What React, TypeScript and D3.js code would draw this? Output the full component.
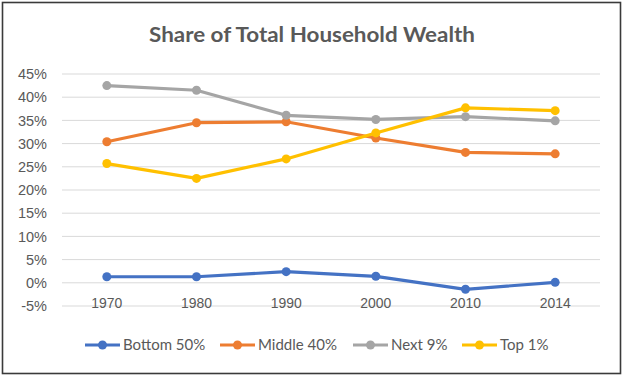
import React from "react";
import * as d3 from "d3";

const years = ["1970", "1980", "1990", "2000", "2010", "2014"];
const bottom50 = [1.3, 1.3, 2.4, 1.4, -1.4, 0.1];
const middle40 = [30.4, 34.5, 34.7, 31.2, 28.1, 27.8];
const next9 = [42.5, 41.5, 36.1, 35.2, 35.8, 34.9];
const top1 = [25.7, 22.5, 26.7, 32.3, 37.7, 37.1];
const yTicks = [-5, 0, 5, 10, 15, 20, 25, 30, 35, 40, 45];
const seriesNames = ["Bottom 50%", "Middle 40%", "Next 9%", "Top 1%"];
const seriesValues = [bottom50, middle40, next9, top1];
const colors = ["#4472C4", "#ED7D31", "#A5A5A5", "#FFC000"];

const W = 623;
const H = 375;

export default function App() {
  const x = d3.scaleBand<string>().domain(years).range([62, 600]).padding(0);
  const y = d3.scaleLinear().domain([-5, 45]).range([306, 74]);
  const cx = (d: string) => (x(d) as number) + x.bandwidth() / 2;
  const line = d3
    .line<number>()
    .x((_, i) => cx(years[i]))
    .y((v) => y(v));

  const legendX = [85, 220, 353, 462];
  const legendY = 345;

  return (
    <svg
      width={W}
      height={H}
      style={{ position: "absolute", left: 0, top: 0, background: "#fff" }}
    >
      <rect x={0} y={0} width={W} height={H} fill="#fff" />
      <rect x={2.5} y={2.5} width={618} height={371} fill="none" stroke="#3a3a3a" strokeWidth={1.6} />
      <text
        x={312}
        y={42}
        textAnchor="middle"
        fontFamily="Lato, 'Open Sans', sans-serif"
        fontWeight={700}
        fontSize={21}
        fill="#595959"
        textLength={326}
        lengthAdjust="spacingAndGlyphs"
      >
        Share of Total Household Wealth
      </text>
      {yTicks.map((t) => (
        <g key={t}>
          <line x1={62} x2={600} y1={y(t)} y2={y(t)} stroke="#d9d9d9" strokeWidth={1} />
          <text
            x={47}
            y={y(t)}
            dy="0.36em"
            textAnchor="end"
            fontFamily="'Liberation Sans', Arial, sans-serif"
            fontSize={14.5}
            fill="#595959"
          >
            {t}%
          </text>
        </g>
      ))}
      {years.map((yr) => (
        <text
          key={yr}
          x={cx(yr)}
          y={308}
          textAnchor="middle"
          fontFamily="'Liberation Sans', Arial, sans-serif"
          fontSize={14.5}
          fill="#595959"
          textLength={31}
          lengthAdjust="spacingAndGlyphs"
        >
          {yr}
        </text>
      ))}
      {seriesValues.map((vals, si) => (
        <g key={si}>
          <path d={line(vals) || ""} fill="none" stroke={colors[si]} strokeWidth={3.2} strokeLinejoin="round" />
          {vals.map((v, i) => (
            <circle key={i} cx={cx(years[i])} cy={y(v)} r={4.5} fill={colors[si]} />
          ))}
        </g>
      ))}
      {seriesNames.map((n, si) => (
        <g key={n} transform={`translate(${legendX[si]},${legendY})`}>
          <line x1={0} x2={35} y1={0} y2={0} stroke={colors[si]} strokeWidth={3.2} />
          <circle cx={17.5} cy={0} r={4.5} fill={colors[si]} />
          <text
            x={38}
            y={0}
            dy="0.36em"
            fontFamily="Lato, sans-serif"
            fontSize={15}
            fill="#595959"
          >
            {n}
          </text>
        </g>
      ))}
    </svg>
  );
}
